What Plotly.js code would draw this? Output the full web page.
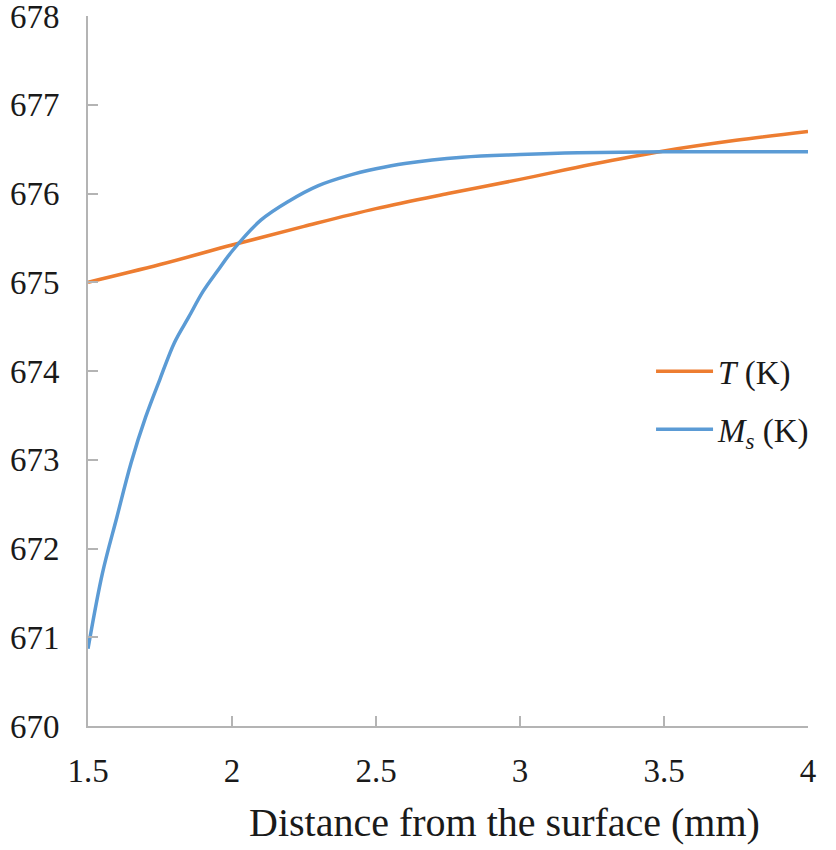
<!DOCTYPE html>
<html>
<head>
<meta charset="utf-8">
<script src="https://cdn.plot.ly/plotly-3.0.1.min.js"></script>
<style>
  html, body { margin: 0; padding: 0; background: #fff; }
  #chart { width: 836px; height: 850px; }
</style>
</head>
<body>
<div id="chart"></div>
<script>
// distance from the surface (mm)
let dist_T = [1.5, 1.75, 2.0, 2.25, 2.5, 2.75, 3.0, 3.25, 3.5, 3.75, 4.0];
let temp_T = [675.0, 675.2, 675.42, 675.63, 675.83, 676.0, 676.16, 676.33, 676.48, 676.6, 676.7];

let dist_Ms = [1.5, 1.55, 1.6, 1.65, 1.7, 1.75, 1.8, 1.85, 1.9, 1.95, 2.0, 2.1, 2.2, 2.3, 2.4, 2.5, 2.6, 2.8, 3.0, 3.2, 3.5, 4.0];
let temp_Ms = [670.87, 671.72, 672.35, 672.97, 673.48, 673.91, 674.32, 674.61, 674.9, 675.13, 675.35, 675.7, 675.92, 676.09, 676.2, 676.28, 676.34, 676.41, 676.44, 676.46, 676.47, 676.47];

let x_ticks = [1.5, 2, 2.5, 3, 3.5, 4];
let y_ticks = [670, 671, 672, 673, 674, 675, 676, 677, 678];

let serif = 'Liberation Serif';
let axisGray = '#b4b4b4';

let traceT = {
    type: 'scatter',
    mode: 'lines',
    name: '<i>T</i> (K)',
    legendgroup: 'a',
    x: dist_T,
    y: temp_T,
    line: { color: '#ED7D31', width: 3.5, shape: 'spline' }
};

let traceMs = {
    type: 'scatter',
    mode: 'lines',
    name: '<i>M<sub>s</sub></i> (K)',
    legendgroup: 'b',
    x: dist_Ms,
    y: temp_Ms,
    line: { color: '#5B9BD5', width: 3.5, shape: 'spline' }
};

let layout = {
    width: 836,
    height: 850,
    margin: { l: 88, r: 28, t: 16, b: 124 },
    paper_bgcolor: '#fff',
    plot_bgcolor: '#fff',
    font: { family: serif, size: 33, color: '#1a1a1a' },
    showlegend: true,
    legend: {
        x: 0.782, y: 0.539,
        xanchor: 'left', yanchor: 'top',
        traceorder: 'grouped',
        tracegroupgap: 12,
        itemwidth: 57,
        bgcolor: 'rgba(0,0,0,0)',
        font: { family: serif, size: 33, color: '#1a1a1a' }
    },
    xaxis: {
        range: [1.5, 4],
        tickvals: x_ticks,
        ticktext: x_ticks.map(String),
        showgrid: false,
        zeroline: false,
        showline: true,
        linecolor: axisGray,
        linewidth: 2,
        ticks: 'inside',
        ticklen: 10,
        tickwidth: 2,
        tickcolor: axisGray,
        ticklabelstandoff: 14,
        ticklabeloverflow: 'allow',
        tickfont: { family: serif, size: 33, color: '#1a1a1a' }
    },
    yaxis: {
        range: [670, 678.001],
        tickvals: y_ticks,
        ticktext: y_ticks.map(String),
        showgrid: false,
        zeroline: false,
        showline: true,
        linecolor: axisGray,
        linewidth: 2,
        ticks: 'inside',
        ticklen: 10,
        tickwidth: 2,
        tickcolor: axisGray,
        ticklabelstandoff: 20,
        ticklabeloverflow: 'allow',
        tickfont: { family: serif, size: 33, color: '#1a1a1a' }
    },
    annotations: [
        {
            xref: 'paper',
            yref: 'paper',
            x: 0.579,
            y: -0.102,
            text: 'Distance from the surface (mm)',
            showarrow: false,
            xanchor: 'center',
            yanchor: 'top',
            font: { family: serif, size: 40, color: '#1a1a1a' }
        }
    ]
};

Plotly.newPlot('chart', [traceT, traceMs], layout, { displayModeBar: false, staticPlot: true });
</script>
</body>
</html>
